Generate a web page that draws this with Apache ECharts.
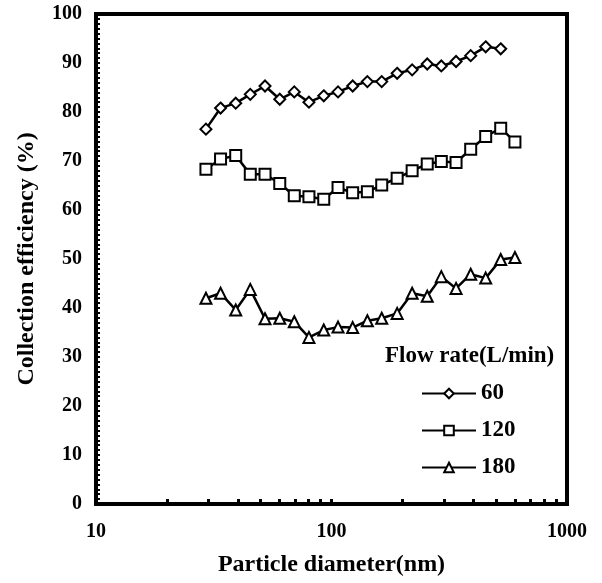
<!DOCTYPE html>
<html>
<head>
<meta charset="utf-8">
<script src="https://cdn.jsdelivr.net/npm/echarts@6/dist/echarts.min.js"></script>
<style>
  html, body { margin: 0; padding: 0; background: #fff; }
  #main { width: 602px; height: 583px; }
</style>
</head>
<body>
<div id="main"></div>
<script>
// particle diameter (nm) of each channel
const diameters = [29.3, 33.8, 39.2, 45.2, 52.2, 60.3, 69.5, 80.2, 92.7, 106.6, 123,
  142, 163.4, 190, 220, 255, 292.6, 338, 390, 451.6, 523, 601];
// collection efficiency (%) per flow rate
const eff60 = [76.5, 80.8, 81.8, 83.6, 85.3, 82.6, 84.1, 82.0, 83.3, 84.1, 85.3,
  86.2, 86.2, 87.9, 88.6, 89.8, 89.4, 90.3, 91.5, 93.3, 92.9];
const eff120 = [68.3, 70.4, 71.1, 67.3, 67.3, 65.4, 62.9, 62.7, 62.2, 64.6, 63.5,
  63.7, 65.1, 66.5, 68.0, 69.4, 69.9, 69.7, 72.4, 75.0, 76.7, 73.9];
const eff180 = [42.0, 43.0, 39.6, 43.8, 37.8, 37.9, 37.2, 34.0, 35.5, 36.1, 36.0,
  37.4, 37.9, 38.9, 43.0, 42.4, 46.4, 44.0, 46.9, 46.1, 49.9, 50.3];
const flowRates = ['60', '120', '180'];
const xTickLabels = [10, 100, 1000];
const xMinorTicks = [20, 30, 40, 50, 60, 70, 80, 90, 100, 200, 300, 400, 500, 600, 700, 800, 900];

const font = 'Liberation Serif';
const pairs = (vals) => vals.map((v, i) => [diameters[i], v]);

const chart = echarts.init(document.getElementById('main'));

const lineSeries = (name, vals, symbol) => ({
  name: name,
  type: 'line',
  data: pairs(vals),
  symbol: symbol,
  symbolSize: 11,
  showAllSymbol: true,
  lineStyle: { color: '#000', width: 2.5 },
  itemStyle: { color: '#000', borderColor: '#000', borderWidth: 2.5 },
  emphasis: { disabled: true },
  z: 3
});

chart.setOption({
  animation: false,
  grid: {
    left: 96, right: 35, top: 14, bottom: 79,
    show: true, borderColor: '#000', borderWidth: 4, backgroundColor: 'transparent'
  },
  xAxis: {
    type: 'log',
    logBase: 10,
    min: 10,
    max: 1000,
    name: 'Particle diameter(nm)',
    nameLocation: 'middle',
    nameGap: 49,
    nameTextStyle: { fontFamily: font, fontWeight: 'bold', fontSize: 24, color: '#000' },
    axisLine: { lineStyle: { color: '#000', width: 4 } },
    axisTick: { inside: true, length: 5, customValues: xMinorTicks, lineStyle: { color: '#000', width: 3 } },
    axisLabel: {
      customValues: xTickLabels, margin: 18,
      formatter: (v) => String(Math.round(v)),
      fontFamily: font, fontWeight: 'bold', fontSize: 20, color: '#000'
    },
    splitLine: { show: false }
  },
  yAxis: {
    type: 'value',
    min: 0,
    max: 100,
    interval: 10,
    name: 'Collection efficiency (%)',
    nameLocation: 'middle',
    nameGap: 57,
    nameTextStyle: { fontFamily: font, fontWeight: 'bold', fontSize: 24, color: '#000' },
    axisLine: { lineStyle: { color: '#000', width: 4 } },
    axisTick: { inside: true, length: 4, lineStyle: { color: '#000', width: 2 } },
    minorTick: { show: true, splitNumber: 10, length: 4, lineStyle: { color: '#000', width: 2 } },
    axisLabel: { margin: 14, fontFamily: font, fontWeight: 'bold', fontSize: 20, color: '#000' },
    splitLine: { show: false }
  },
  legend: {
    data: flowRates,
    orient: 'vertical',
    left: 416,
    top: 377,
    itemWidth: 54,
    itemHeight: 12,
    itemGap: 14,
    selectedMode: false,
    textStyle: { fontFamily: font, fontWeight: 'bold', fontSize: 23, color: '#000', lineHeight: 22 }
  },
  graphic: [{
    type: 'text',
    left: 385,
    top: 345,
    style: { text: 'Flow rate(L/min)', font: 'bold 23px "Liberation Serif"', fill: '#000' }
  }],
  series: [
    lineSeries(flowRates[0], eff60, 'emptyDiamond'),
    lineSeries(flowRates[1], eff120, 'emptyRect'),
    lineSeries(flowRates[2], eff180, 'emptyTriangle')
  ]
});
</script>
</body>
</html>
